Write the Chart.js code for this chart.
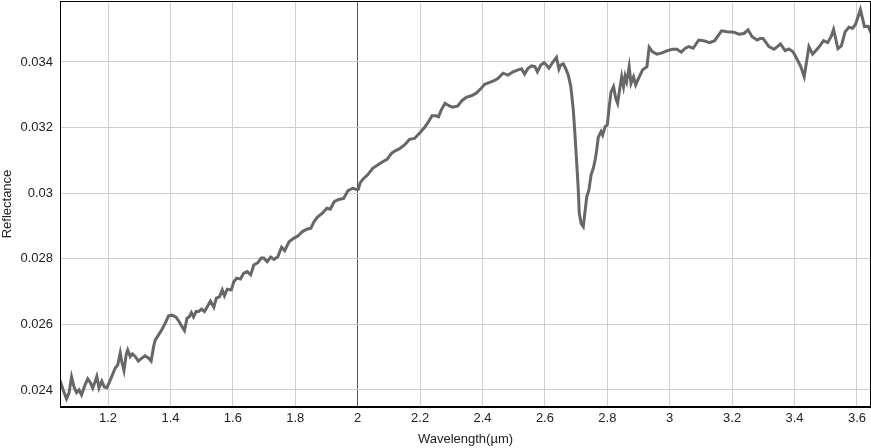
<!DOCTYPE html>
<html>
<head>
<meta charset="utf-8">
<script src="https://cdn.jsdelivr.net/npm/chart.js@4"></script>
<style>
  html, body { margin: 0; padding: 0; background: #fff; }
  #wrap { width: 871px; height: 448px; }
</style>
</head>
<body>
<div id="wrap"><canvas id="spectrum"></canvas></div>
<script>
// wavelength (µm) and reflectance
const wavelength = [
  1.046, 1.056, 1.067, 1.075, 1.083, 1.091, 1.099, 1.107, 1.115, 1.126,
  1.135, 1.144, 1.151, 1.158, 1.164, 1.171, 1.180, 1.188, 1.196, 1.203,
  1.214, 1.223, 1.231, 1.239, 1.244, 1.251, 1.258, 1.263, 1.271, 1.278,
  1.287, 1.297, 1.308, 1.319, 1.330, 1.338, 1.346, 1.351, 1.362, 1.373,
  1.383, 1.394, 1.405, 1.418, 1.428, 1.437, 1.445, 1.453, 1.460, 1.467,
  1.474, 1.482, 1.490, 1.499, 1.509, 1.517, 1.525, 1.528, 1.539, 1.547,
  1.557, 1.566, 1.573, 1.582, 1.595, 1.603, 1.612, 1.624, 1.635, 1.646,
  1.657, 1.667, 1.680, 1.691, 1.699, 1.710, 1.721, 1.732, 1.744, 1.756,
  1.766, 1.780, 1.796, 1.809, 1.823, 1.837, 1.850, 1.860, 1.871, 1.887,
  1.901, 1.912, 1.925, 1.939, 1.955, 1.969, 1.984, 1.994, 2.002, 2.008,
  2.019, 2.032, 2.048, 2.064, 2.080, 2.094, 2.109, 2.120, 2.133, 2.150,
  2.166, 2.182, 2.198, 2.214, 2.225, 2.238, 2.251, 2.259, 2.268, 2.280,
  2.294, 2.305, 2.321, 2.334, 2.348, 2.364, 2.380, 2.396, 2.407, 2.421,
  2.437, 2.450, 2.466, 2.482, 2.498, 2.514, 2.525, 2.535, 2.546, 2.557,
  2.568, 2.576, 2.587, 2.597, 2.605, 2.613, 2.623, 2.637, 2.645, 2.651,
  2.659, 2.666, 2.675, 2.683, 2.691, 2.696, 2.702, 2.707, 2.710, 2.716,
  2.723, 2.728, 2.734, 2.741, 2.748, 2.755, 2.761, 2.766, 2.771, 2.780,
  2.785, 2.793, 2.800, 2.806, 2.812, 2.820, 2.827, 2.833, 2.841, 2.846,
  2.852, 2.857, 2.862, 2.870, 2.876, 2.884, 2.891, 2.900, 2.913, 2.927,
  2.934, 2.945, 2.959, 2.973, 2.991, 3.007, 3.023, 3.037, 3.050, 3.061,
  3.075, 3.093, 3.109, 3.127, 3.144, 3.166, 3.184, 3.205, 3.222, 3.238,
  3.251, 3.264, 3.280, 3.290, 3.299, 3.318, 3.334, 3.345, 3.355, 3.370,
  3.382, 3.395, 3.404, 3.420, 3.431, 3.446, 3.458, 3.477, 3.493, 3.506,
  3.517, 3.525, 3.539, 3.550, 3.562, 3.574, 3.586, 3.596, 3.611, 3.624,
  3.636, 3.645
];
const reflectance = [
  0.02430, 0.02400, 0.02373, 0.02391, 0.02440, 0.02409, 0.02392, 0.02400, 0.02385, 0.02415,
  0.02434, 0.02421, 0.02406, 0.02424, 0.02441, 0.02406, 0.02427, 0.02409, 0.02407, 0.02421,
  0.02446, 0.02467, 0.02476, 0.02513, 0.02486, 0.02459, 0.02507, 0.02522, 0.02502, 0.02510,
  0.02502, 0.02488, 0.02497, 0.02504, 0.02497, 0.02488, 0.02532, 0.02552, 0.02568, 0.02585,
  0.02603, 0.02626, 0.02628, 0.02622, 0.02608, 0.02593, 0.02581, 0.02619, 0.02623, 0.02636,
  0.02623, 0.02639, 0.02639, 0.02646, 0.02639, 0.02652, 0.02666, 0.02671, 0.02652, 0.02680,
  0.02684, 0.02705, 0.02687, 0.02707, 0.02705, 0.02730, 0.02741, 0.02738, 0.02756, 0.02761,
  0.02751, 0.02781, 0.02788, 0.02802, 0.02802, 0.02791, 0.02805, 0.02798, 0.02806, 0.02835,
  0.02825, 0.02852, 0.02863, 0.02870, 0.02883, 0.02890, 0.02893, 0.02913, 0.02927, 0.02939,
  0.02954, 0.02951, 0.02974, 0.02981, 0.02984, 0.03008, 0.03015, 0.03012, 0.03012, 0.03032,
  0.03045, 0.03056, 0.03076, 0.03086, 0.03096, 0.03103, 0.03122, 0.03129, 0.03135, 0.03147,
  0.03164, 0.03167, 0.03183, 0.03200, 0.03215, 0.03236, 0.03236, 0.03233, 0.03254, 0.03274,
  0.03266, 0.03262, 0.03266, 0.03282, 0.03292, 0.03297, 0.03305, 0.03320, 0.03332, 0.03337,
  0.03343, 0.03350, 0.03366, 0.03360, 0.03370, 0.03376, 0.03379, 0.03363, 0.03381, 0.03388,
  0.03386, 0.03370, 0.03391, 0.03398, 0.03391, 0.03381, 0.03396, 0.03414, 0.03378, 0.03391,
  0.03394, 0.03381, 0.03360, 0.03325, 0.03254, 0.03183, 0.03091, 0.03010, 0.02939, 0.02908,
  0.02898, 0.02939, 0.02989, 0.03010, 0.03056, 0.03076, 0.03101, 0.03132, 0.03170, 0.03188,
  0.03177, 0.03203, 0.03208, 0.03264, 0.03309, 0.03325, 0.03289, 0.03274, 0.03325, 0.03355,
  0.03325, 0.03357, 0.03340, 0.03386, 0.03335, 0.03355, 0.03330, 0.03350, 0.03376, 0.03386,
  0.03445, 0.03431, 0.03424, 0.03427, 0.03434, 0.03439, 0.03439, 0.03430, 0.03442, 0.03447,
  0.03442, 0.03467, 0.03465, 0.03459, 0.03465, 0.03495, 0.03492, 0.03491, 0.03485, 0.03487,
  0.03498, 0.03477, 0.03467, 0.03472, 0.03472, 0.03447, 0.03439, 0.03447, 0.03455, 0.03435,
  0.03440, 0.03431, 0.03416, 0.03386, 0.03355, 0.03447, 0.03424, 0.03444, 0.03465, 0.03459,
  0.03477, 0.03499, 0.03441, 0.03449, 0.03492, 0.03506, 0.03503, 0.03516, 0.03560, 0.03508,
  0.03509, 0.03489
];
const xTicks = [1.2, 1.4, 1.6, 1.8, 2, 2.2, 2.4, 2.6, 2.8, 3, 3.2, 3.4, 3.6];
const yTicks = [0.024, 0.026, 0.028, 0.03, 0.032, 0.034];

const points = wavelength.map((w, i) => ({ x: w, y: reflectance[i] }));

const frame = {
  id: 'frame',
  afterDraw(chart) {
    const { ctx, chartArea: a } = chart;
    ctx.save();
    ctx.strokeStyle = '#000';
    ctx.lineWidth = 1;
    ctx.strokeRect(a.left + 0.5, a.top + 0.5, a.right - a.left - 1, a.bottom - a.top - 1);
    ctx.restore();
  }
};

const font = { family: 'Liberation Sans, Arial, sans-serif', size: 13 };

new Chart(document.getElementById('spectrum'), {
  type: 'line',
  data: {
    datasets: [{
      data: points,
      borderColor: '#676767',
      borderWidth: 3,
      pointRadius: 0,
      tension: 0,
      fill: false
    }]
  },
  options: {
    responsive: true,
    maintainAspectRatio: false,
    animation: false,
    layout: { padding: { top: 1, right: 0, left: 0, bottom: 0 } },
    plugins: { legend: { display: false }, tooltip: { enabled: false } },
    scales: {
      x: {
        type: 'linear',
        min: 1.046,
        max: 3.645,
        afterBuildTicks: s => { s.ticks = xTicks.map(v => ({ value: v })); },
        afterFit: s => { s.height = 41; s.paddingLeft = 0; s.paddingRight = 0; },
        grid: {
          color: c => (c.tick && c.tick.value === 2) ? '#555' : '#cfcfcf',
          drawTicks: false
        },
        border: { color: '#000', width: 1 },
        ticks: {
          color: '#222',
          font,
          padding: 4,
          maxRotation: 0,
          callback: v => String(+v.toFixed(1))
        },
        title: { display: true, text: 'Wavelength(µm)', color: '#222', font, padding: { top: 3, bottom: 1 } }
      },
      y: {
        min: 0.02348,
        max: 0.03586,
        afterBuildTicks: s => { s.ticks = yTicks.map(v => ({ value: v })); },
        afterFit: s => { s.width = 60; s.paddingTop = 0; s.paddingBottom = 0; },
        grid: { color: '#cfcfcf', drawTicks: false },
        border: { color: '#000', width: 1 },
        ticks: {
          color: '#222',
          font,
          padding: 7,
          callback: v => String(+v.toFixed(3))
        },
        title: { display: true, text: 'Reflectance', color: '#222', font, padding: { top: 0, bottom: 2 } }
      }
    }
  },
  plugins: [frame]
});
</script>
</body>
</html>
